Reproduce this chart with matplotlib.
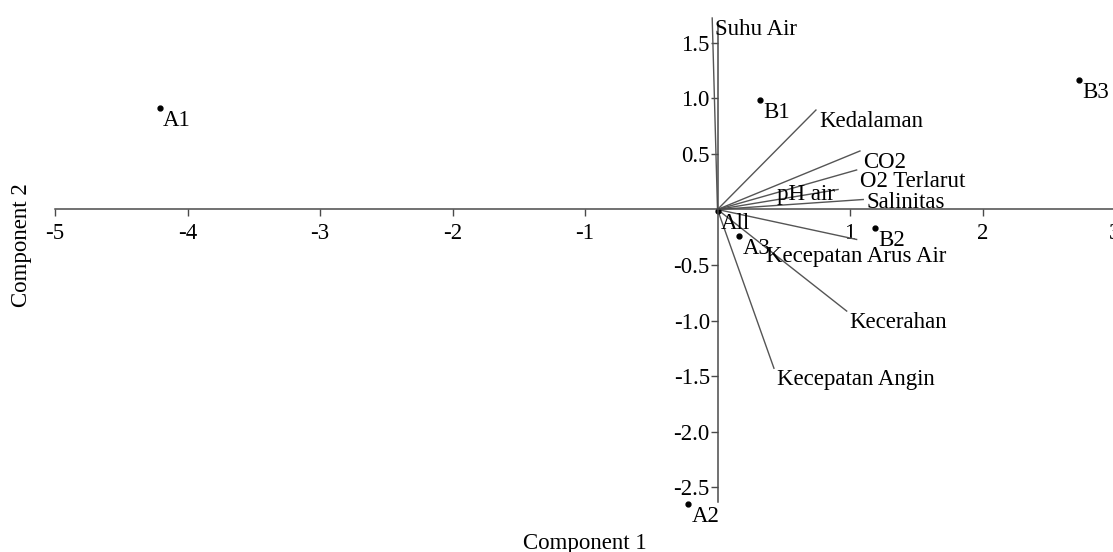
import matplotlib
matplotlib.use("Agg")
import matplotlib.pyplot as plt

plt.rcParams['font.family'] = ['Liberation Serif', 'DejaVu Serif']

# PCA scores (Component 1, Component 2)
site_names = ['A1', 'A2', 'A3', 'All', 'B1', 'B2', 'B3']
site_c1 = [-4.21, -0.22, 0.165, 0.0, 0.32, 1.19, 2.73]
site_c2 = [0.91, -2.65, -0.236, -0.015, 0.986, -0.17, 1.17]

# loadings (biplot vectors)
var_names = ['Suhu Air', 'Kedalaman', 'CO2', 'O2 Terlarut', 'pH air',
             'Salinitas', 'Kecepatan Arus Air', 'Kecerahan', 'Kecepatan Angin']
var_c1 = [-0.04, 0.743, 1.075, 1.05, 0.91, 1.10, 1.05, 0.975, 0.426]
var_c2 = [1.725, 0.896, 0.527, 0.356, 0.18, 0.09, -0.27, -0.915, -1.43]

x_ticks = [-5, -4, -3, -2, -1, 1, 2, 3]
y_ticks = [-2.5, -2.0, -1.5, -1.0, -0.5, 0.5, 1.0, 1.5]

fs = 16.5

fig = plt.figure(figsize=(11.13, 5.52), dpi=100)
ax = fig.add_axes([55 / 1113, 1 - 502 / 552, 1060 / 1113, 479 / 552])
ax.set_xlim(-5, 3)
ax.set_ylim(-2.635, 1.68)

# axes crossing at the origin
for s in ['top', 'right']:
    ax.spines[s].set_visible(False)
ax.spines['left'].set_position(('data', 0))
ax.spines['bottom'].set_position(('data', 0))
for s in ['left', 'bottom']:
    ax.spines[s].set_color('#4a4a4a')
    ax.spines[s].set_linewidth(1.1)

ax.set_xticks(x_ticks)
ax.set_xticklabels([str(t) for t in x_ticks])
ax.set_yticks(y_ticks)
ax.set_yticklabels(['%.1f' % t for t in y_ticks])
ax.tick_params(axis='x', direction='out', length=5, width=1, color='#4a4a4a',
               labelsize=fs, pad=5)
ax.tick_params(axis='y', direction='out', length=5, width=1, color='#4a4a4a',
               labelsize=fs, pad=0.5)

# vectors
label_style = {'Kecepatan Arus Air': ('center', 0, -7),
               'pH air': ('right', -3, 6),
               'Salinitas': ('left', 3, 8)}
for name, vx, vy in zip(var_names, var_c1, var_c2):
    ax.plot([0, vx], [0, vy], color='#555555', lw=1.0, clip_on=False)
    ha, dx, dy = label_style.get(name, ('left', 3, -1))
    ax.annotate(name, (vx, vy), xytext=(dx, dy), textcoords='offset pixels',
                ha=ha, va='top', fontsize=fs, color='black', annotation_clip=False)

# points
ax.plot(site_c1, site_c2, 'o', color='black', ms=3.5, clip_on=False)
for name, px, py in zip(site_names, site_c1, site_c2):
    ax.annotate(name, (px, py), xytext=(3, -2), textcoords='offset pixels',
                ha='left', va='top', fontsize=fs, color='black', annotation_clip=False)

fig.text(585 / 1113, 1 - 543 / 552, 'Component 1', ha='center', va='center', fontsize=fs)
fig.text(22 / 1113, 1 - 245 / 552, 'Component 2', ha='center', va='center',
         rotation=90, fontsize=fs)

plt.savefig('out.png', dpi=100)
